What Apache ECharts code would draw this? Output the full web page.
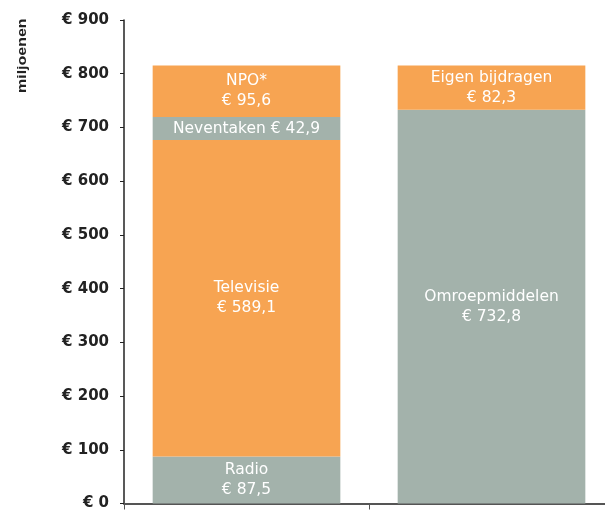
<!DOCTYPE html>
<html><head><meta charset="utf-8">
<script src="https://cdn.jsdelivr.net/npm/echarts@6/dist/echarts.min.js"></script>
<style>html,body{margin:0;padding:0;background:#fff;overflow:hidden}#c{width:620px;height:511px}</style>
</head><body><div id="c"></div>
<script>
const categories = ['Uitgaven', 'Inkomsten'];
const layer1 = [87.5, 732.8];
const layer1Names = ['Radio', 'Omroepmiddelen'];
const layer2 = [589.1, 82.3];
const layer2Names = ['Televisie', 'Eigen bijdragen'];
const layer3 = [42.9, null];
const layer3Names = ['Neventaken', ''];
const layer4 = [95.6, null];
const layer4Names = ['NPO*', ''];
const yTicks = [0, 100, 200, 300, 400, 500, 600, 700, 800, 900];

const ORANGE = '#F7A452';
const GRAY = '#A3B2AB';
const fmtVal = v => '€ ' + v.toFixed(1).replace('.', ',');
function mk(data, names, color, oneLine) {
  return {
    type: 'bar', stack: 'a', barWidth: '76.6%',
    data: data.map(v => v == null ? '-' : v),
    itemStyle: { color: color },
    label: {
      show: true, position: 'inside', color: '#fff', fontSize: 15.5,
      fontFamily: 'DejaVu Sans', lineHeight: 20,
      formatter: p => {
        const n = names[p.dataIndex];
        if (!n) return '';
        return (oneLine[p.dataIndex] ? n + ' ' : n + '\n') + fmtVal(p.value);
      }
    }
  };
}
const chart = echarts.init(document.getElementById('c'), null, { renderer: 'canvas' });
chart.setOption({
  animation: false,
  grid: { left: 124, right: 6, top: 20, bottom: 6, containLabel: false },
  xAxis: {
    type: 'category', data: categories,
    axisLine: { lineStyle: { color: '#555', width: 2 } },
    axisTick: { show: true, length: 6, lineStyle: { color: '#555' } },
    axisLabel: { show: false }
  },
  yAxis: {
    type: 'value', min: yTicks[0], max: yTicks[yTicks.length - 1], interval: 100,
    axisLine: { show: true, lineStyle: { color: '#222', width: 1.5 } },
    axisTick: { show: true, length: 4, lineStyle: { color: '#222' } },
    splitLine: { show: false },
    axisLabel: {
      color: '#222', fontSize: 15, fontWeight: 'bold', fontFamily: 'DejaVu Sans', margin: 15,
      padding: [2, 0, 0, 0],
      formatter: v => '€ ' + v
    }
  },
  series: [
    mk(layer1, layer1Names, GRAY, [false, false]),
    mk(layer2, layer2Names, ORANGE, [false, false]),
    mk(layer3, layer3Names, GRAY, [true, false]),
    mk(layer4, layer4Names, ORANGE, [false, false])
  ],
  graphic: [{
    type: 'text', x: 16, y: 93, rotation: Math.PI / 2, scaleX: 1.23,
    style: { text: 'miljoenen', fill: '#222', font: 'bold 13px "Liberation Sans"', align: 'left', verticalAlign: 'top' }
  }]
});
</script></body></html>
